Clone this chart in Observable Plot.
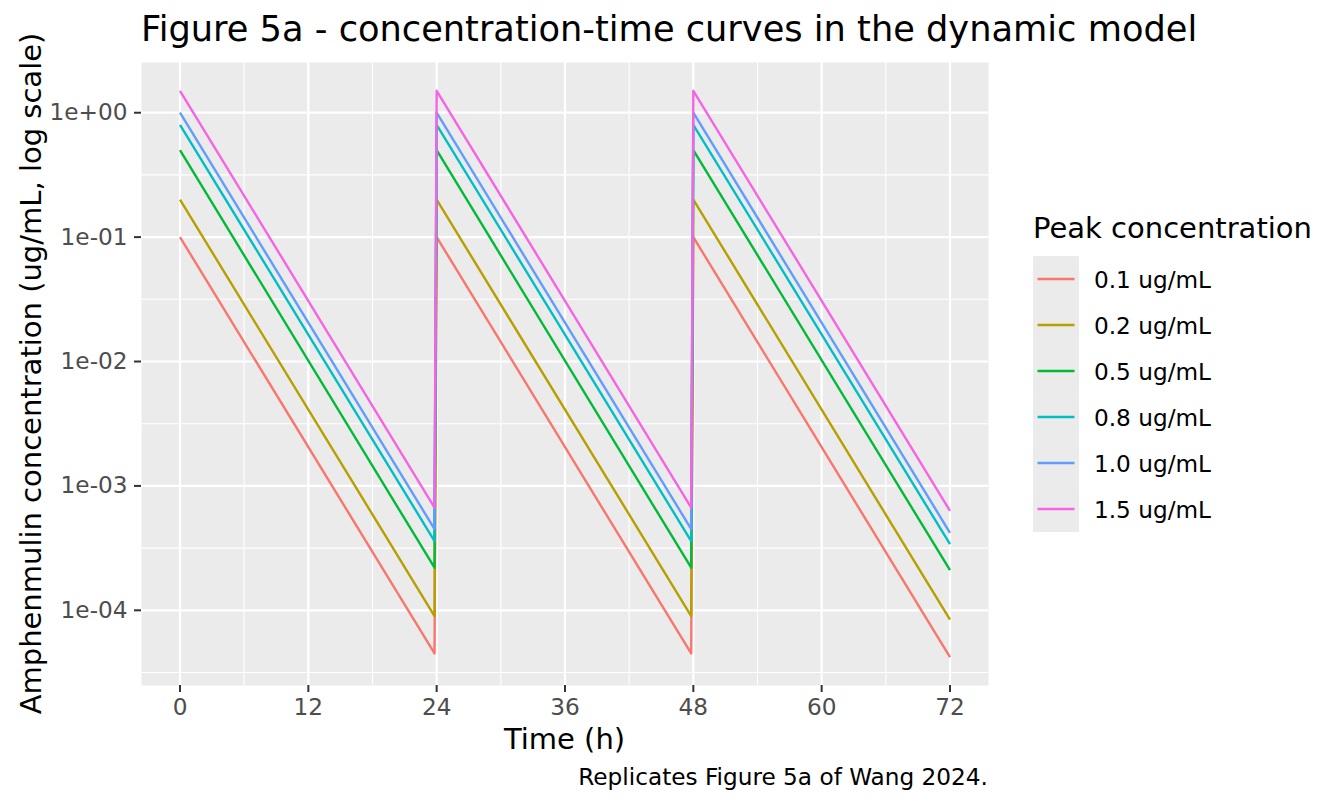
<!DOCTYPE html>
<html>
<head>
<meta charset="utf-8">
<script src="https://cdn.jsdelivr.net/npm/d3@7"></script>
<script src="https://cdn.jsdelivr.net/npm/@observablehq/plot@0.6"></script>
<style>
  html, body { margin: 0; padding: 0; background: #ffffff; }
  #chart svg { display: block; }
</style>
</head>
<body>
<div id="chart"></div>
<script>
// ---- Data ----
const seriesLabels = ["0.1 ug/mL", "0.2 ug/mL", "0.5 ug/mL", "0.8 ug/mL", "1.0 ug/mL", "1.5 ug/mL"];
const seriesColors = ["#F8766D", "#B79F00", "#00BA38", "#00BFC4", "#619CFF", "#F564E3"];
const timePoints = [0, 23.8, 24, 47.8, 48, 72];
const conc_0_1 = [0.1, 4.5e-5, 0.1, 4.5e-5, 0.1, 4.2e-5];
const conc_0_2 = [0.2, 9.0e-5, 0.2, 9.0e-5, 0.2, 8.4e-5];
const conc_0_5 = [0.5, 2.2e-4, 0.5, 2.2e-4, 0.5, 2.1e-4];
const conc_0_8 = [0.8, 3.6e-4, 0.8, 3.6e-4, 0.8, 3.4e-4];
const conc_1_0 = [1.0, 4.5e-4, 1.0, 4.5e-4, 1.0, 4.2e-4];
const conc_1_5 = [1.5, 6.7e-4, 1.5, 6.7e-4, 1.5, 6.3e-4];
const xTicks = [0, 12, 24, 36, 48, 60, 72];
const xMinor = [6, 18, 30, 42, 54, 66];
const yTicks = [1e-4, 1e-3, 1e-2, 1e-1, 1];
const yTickLabels = ["1e-04", "1e-03", "1e-02", "1e-01", "1e+00"];
const yMinor = [Math.pow(10, -4.5), Math.pow(10, -3.5), Math.pow(10, -2.5), Math.pow(10, -1.5), Math.pow(10, -0.5)];

const titleText = "Figure 5a - concentration-time curves in the dynamic model";
const xTitle = "Time (h)";
const yTitle = "Amphenmulin concentration (ug/mL, log scale)";
const legendTitle = "Peak concentration";
const captionText = "Replicates Figure 5a of Wang 2024.";

// ---- Build table ----
const allSeries = [conc_0_1, conc_0_2, conc_0_5, conc_0_8, conc_1_0, conc_1_5];
const rows = [];
allSeries.forEach((vals, i) => {
  vals.forEach((v, j) => rows.push({series: seriesLabels[i], t: timePoints[j], c: v}));
});

// ggplot-like 5% expansion
const xExt = d3.extent(rows, d => d.t);
const xPad = (xExt[1] - xExt[0]) * 0.05;
const lyExt = d3.extent(rows, d => Math.log10(d.c));
const lyPad = (lyExt[1] - lyExt[0]) * 0.05;

const FONT = "DejaVu Sans";
const W = 1344, H = 806;
const mL = 141, mR = 356, mT = 62, mB = 121;

const plot = Plot.plot({
  width: W,
  height: H,
  marginLeft: mL,
  marginRight: mR,
  marginTop: mT,
  marginBottom: mB,
  style: {fontFamily: FONT, background: "#ffffff", overflow: "visible"},
  x: {domain: [xExt[0] - xPad, xExt[1] + xPad]},
  y: {type: "log", domain: [Math.pow(10, lyExt[0] - lyPad), Math.pow(10, lyExt[1] + lyPad)]},
  color: {domain: seriesLabels, range: seriesColors},
  marks: [
    Plot.frame({fill: "#EBEBEB", stroke: null}),
    Plot.ruleX(xMinor, {stroke: "#ffffff", strokeWidth: 1.1}),
    Plot.ruleY(yMinor, {stroke: "#ffffff", strokeWidth: 1.1}),
    Plot.ruleX(xTicks, {stroke: "#ffffff", strokeWidth: 2.2}),
    Plot.ruleY(yTicks, {stroke: "#ffffff", strokeWidth: 2.2}),
    Plot.line(rows, {x: "t", y: "c", z: "series", stroke: "series", strokeWidth: 2.4, strokeLinejoin: "round", strokeLinecap: "butt"}),
    Plot.axisX({ticks: xTicks, tickFormat: d => String(d), tickSize: 7, tickPadding: 6, fontSize: 23.2, color: "#4D4D4D", stroke: "#333333", strokeWidth: 2, label: null}),
    Plot.axisY({ticks: yTicks, tickFormat: (d, i) => yTickLabels[yTicks.indexOf(d)], tickSize: 7, tickPadding: 7, fontSize: 23.2, color: "#4D4D4D", stroke: "#333333", strokeWidth: 2, label: null})
  ]
});

const svg = d3.select(plot);
// Title
svg.append("text")
  .attr("x", mL).attr("y", 41)
  .attr("text-anchor", "start")
  .attr("font-family", FONT).attr("font-size", 35.2).attr("fill", "#000000")
  .text(titleText);
// X axis title
svg.append("text")
  .attr("x", mL + (W - mL - mR) / 2).attr("y", 749)
  .attr("text-anchor", "middle")
  .attr("font-family", FONT).attr("font-size", 29).attr("fill", "#000000")
  .text(xTitle);
// Y axis title
svg.append("text")
  .attr("transform", `translate(41,${mT + (H - mT - mB) / 2}) rotate(-90)`)
  .attr("text-anchor", "middle")
  .attr("font-family", FONT).attr("font-size", 29).attr("fill", "#000000")
  .text(yTitle);
// Caption
svg.append("text")
  .attr("x", W - mR).attr("y", 785)
  .attr("text-anchor", "end")
  .attr("font-family", FONT).attr("font-size", 23.2).attr("fill", "#000000")
  .text(captionText);

// Legend
const lg = svg.append("g").attr("aria-label", "legend").attr("text-anchor", "start");
const lx = 1033, ly = 256, keyH = 46, keyW = 46;
lg.append("text")
  .attr("x", lx).attr("y", 238)
  .attr("text-anchor", "start")
  .attr("font-family", FONT).attr("font-size", 29).attr("fill", "#000000")
  .text(legendTitle);
lg.append("rect")
  .attr("x", lx).attr("y", ly).attr("width", keyW).attr("height", keyH * seriesLabels.length)
  .attr("fill", "#EBEBEB");
seriesLabels.forEach((lab, i) => {
  const cy = ly + keyH * i + keyH / 2;
  lg.append("line")
    .attr("x1", lx + 4.5).attr("x2", lx + keyW - 4.5)
    .attr("y1", cy).attr("y2", cy)
    .attr("stroke", seriesColors[i]).attr("stroke-width", 2.4);
  lg.append("text")
    .attr("x", 1094).attr("y", cy + 8.5)
    .attr("text-anchor", "start")
    .attr("font-family", FONT).attr("font-size", 23.2).attr("fill", "#000000")
    .text(lab);
});

document.getElementById("chart").appendChild(plot);
</script>
</body>
</html>
